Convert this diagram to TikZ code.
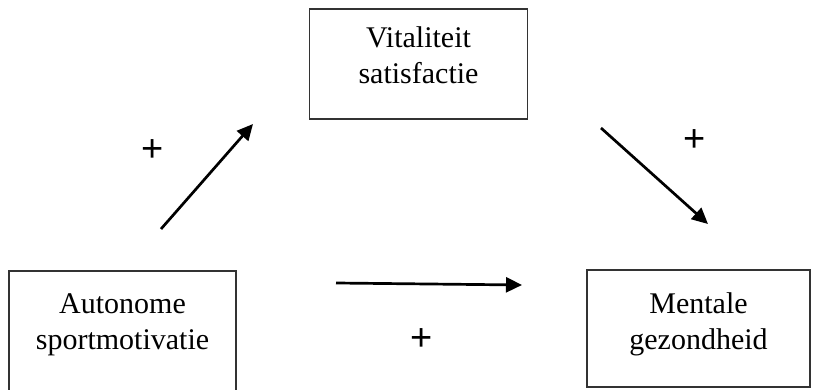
\documentclass[tikz,border=0pt]{standalone}
\usepackage{fontspec}
\setmainfont{Liberation Serif}
\newfontfamily\plusfont{Liberation Sans}
\usetikzlibrary{arrows.meta}
\begin{document}
\begin{tikzpicture}[x=1pt,y=-1pt,
  box/.style={draw=black!80,line width=1.6pt,inner sep=0pt,align=center,
    text height=56pt,font=\fontsize{30}{36}\selectfont},
  arr/.style={line width=2.7pt,-{Triangle[length=16pt,width=15pt]}},
  plus/.style={font=\plusfont\fontsize{38}{38}\selectfont,inner sep=0pt}]
\useasboundingbox (0,0) rectangle (829,390);
\node[box,minimum width=218pt,minimum height=110pt,text depth=16pt] (vit) at (418.5,64) {Vitaliteit\\satisfactie};
\node[box,minimum width=227pt,minimum height=121pt,text depth=21pt] (aut) at (122.5,331.5) {Autonome\\sportmotivatie};
\node[box,minimum width=223pt,minimum height=117pt,text depth=15pt] (men) at (698.5,328.5) {Mentale\\gezondheid};
\coordinate (a1) at (161,229);
\coordinate (a2) at (253,124);
\coordinate (b1) at (601,128);
\coordinate (b2) at (708,224);
\coordinate (c1) at (336,283);
\coordinate (c2) at (522,285);
\draw[arr] (a1) -- (a2);
\draw[arr] (b1) -- (b2);
\draw[arr] (c1) -- (c2);
\node[plus] (p1) at (153,151) {+};
\node[plus] (p2) at (695,141) {+};
\node[plus] (p3) at (422,340) {+};
\end{tikzpicture}
\end{document}
